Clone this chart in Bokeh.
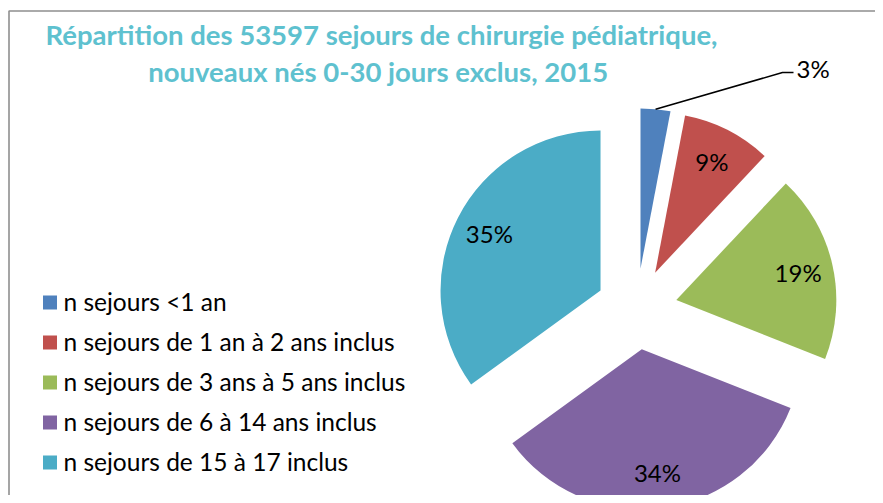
import numpy as np
from bokeh.plotting import figure
from bokeh.models import Range1d
from bokeh.embed import file_html
from bokeh.resources import INLINE
from bokeh.core.properties import value

# ---- data ----
categories = [
    "n sejours <1 an",
    "n sejours de 1 an à 2 ans inclus",
    "n sejours de 3 ans à 5 ans inclus",
    "n sejours de 6 à 14 ans inclus",
    "n sejours de 15 à 17 inclus",
]
shares = [3, 9, 19, 34, 35]
colors = ["#4F81BD", "#C0504D", "#9BBB59", "#8064A2", "#4BACC6"]
title_lines = [
    "Répartition des 53597 sejours de chirurgie pédiatrique,",
    "nouveaux nés 0-30 jours  exclus, 2015",
]

# ---- layout ----
W, H = 875, 495
FONT = "Lato"


def Y(sy):
    return H - sy


p = figure(width=W, height=H, x_range=Range1d(0, W), y_range=Range1d(0, H),
           output_backend="svg", toolbar_location=None, min_border=0)
p.axis.visible = False
p.grid.visible = False
p.outline_line_color = None
p.background_fill_color = "white"
p.border_fill_color = "white"

# chart border (top + left)
p.line(x=[8.5, 8.5, W], y=[Y(H), Y(10.5), Y(10.5)], line_color="#8f8f8f", line_width=1.6)

# pie geometry
cx, cy = 636.2, Y(308.4)
r = 160.0
d = 40.6
total = float(sum(shares))
cum = np.cumsum([0] + shares) / total * 2 * np.pi  # clockwise from top
s_cw, e_cw = cum[:-1], cum[1:]
m_cw = (s_cw + e_cw) / 2
start_b = np.pi / 2 - e_cw
end_b = np.pi / 2 - s_cw
mid_b = np.pi / 2 - m_cw
ax = cx + d * np.cos(mid_b)
ay = cy + d * np.sin(mid_b)
p.wedge(x=ax, y=ay, radius=r, start_angle=start_b, end_angle=end_b,
        fill_color=colors, line_color=None)

# inner labels
lx, ly, lt = [], [], []
for i in range(1, len(shares)):
    lx.append(ax[i] + 0.78 * r * np.cos(mid_b[i]))
    ly.append(ay[i] + 0.78 * r * np.sin(mid_b[i]))
    lt.append(f"{shares[i]}%")
p.text(x=lx, y=ly, text=lt, text_font=value(FONT), text_font_size="24px",
       text_align="center", text_baseline="middle", text_color="black")

# outer label for the smallest slice with leader line
ex = ax[0] + r * np.cos(mid_b[0])
ey = ay[0] + r * np.sin(mid_b[0])
p.line(x=[ex, 782, 793], y=[ey, Y(72), Y(72)], line_color="black", line_width=1.5)
p.text(x=[796], y=[Y(68)], text=[f"{shares[0]}%"], text_font=value(FONT), text_font_size="24px",
       text_align="left", text_baseline="middle", text_color="black")

# legend
for i, (c, lab) in enumerate(zip(colors, categories)):
    yy = 302 + 40 * i
    p.rect(x=[49.5], y=[Y(yy)], width=14, height=14, fill_color=c, line_color=None)
    p.text(x=[63], y=[Y(yy - 1)], text=[lab], text_font=value(FONT), text_font_size="24.5px",
           text_align="left", text_baseline="middle", text_color="black")

# title
for j, t in enumerate(title_lines):
    p.text(x=[381], y=[Y(34 + 37 * j)], text=[t], text_font=value(FONT), text_font_size="27.5px",
           text_font_style="bold", text_align="center", text_baseline="middle", text_color="#5EC1CF")

open("out.html", "w").write(file_html(p, INLINE))
